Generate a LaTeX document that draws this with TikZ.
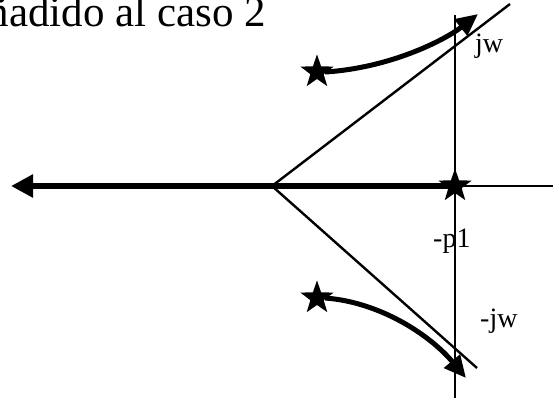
\documentclass[tikz,border=0pt]{standalone}
\usepackage{fontspec}
\setmainfont{Liberation Serif}
\usetikzlibrary{arrows.meta,shapes.geometric}
\begin{document}
\begin{tikzpicture}[x=1pt,y=-1pt,
  thinline/.style={line width=2.4pt},
  thickline/.style={line width=5.5pt},
  polestar/.style={star,star points=5,star point ratio=2.5,fill=black,draw=none,minimum size=35pt,inner sep=0pt},
  lbl/.style={font=\fontsize{28}{30}\selectfont,inner sep=0pt},
  bigtip/.style={-{Triangle[length=22pt,width=22pt]}}]
\useasboundingbox (0,0) rectangle (559,405);
\clip (0,0) rectangle (559,405);
% coordinates
\coordinate (vt) at (455,15);
\coordinate (vb) at (455,398);
\coordinate (hr) at (553,186);
\coordinate (o) at (455,186);
\coordinate (hl) at (11,186);
\coordinate (b) at (272,186);
\coordinate (a1) at (510,4);
\coordinate (a2) at (477,368);
\coordinate (tipU) at (478,14);
\coordinate (tipL) at (466,378);
% title
\node[anchor=base east,inner sep=0pt,font=\fontsize{43}{46}\selectfont] (title) at (266,26) {ñadido al caso 2};
% axes and asymptotes
\draw[thinline] (vt) -- (vb);
\draw[thinline] (b) -- (hr);
\draw[thinline] (b) -- (a1);
\draw[thinline] (b) -- (a2);
\draw[thickline,bigtip] (o) -- (hl);
% stars
\node[polestar] (s0) at (o) {};
\node[polestar] (s1) at (317,72) {};
\node[polestar] (s2) at (317,298) {};
% loci
\draw[line width=5pt,-{Triangle[length=22pt,width=20pt]}] (s1.center) ++(8,0) .. controls (390,68) and (445,40) .. (tipU);
\draw[line width=5pt,-{Triangle[length=22pt,width=20pt]}] (s2.center) ++(8,0) .. controls (380,302) and (430,335) .. (tipL);
% labels
\node[lbl,anchor=base west] (jw) at (475,52) {jw};
\node[lbl,anchor=base west] (p1) at (433,247) {-p1};
\node[lbl,anchor=base west] (mjw) at (480,327) {-jw};
\end{tikzpicture}
\end{document}
